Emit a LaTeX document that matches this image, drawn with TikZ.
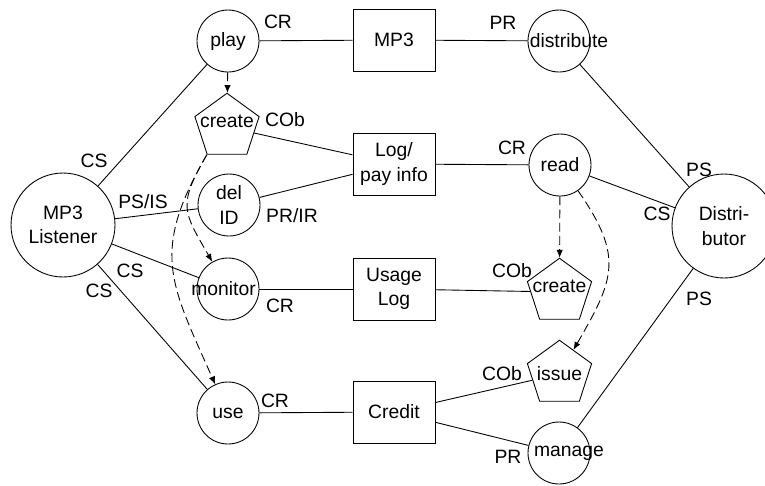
\documentclass[tikz,border=0pt]{standalone}
\usepackage{fontspec}
\setmainfont{Liberation Sans}
\usetikzlibrary{arrows.meta,shapes.geometric}

\begin{document}
\begin{tikzpicture}[
    x=0.02cm, y=0.02cm,
    font=\fontsize{11}{14}\selectfont,
    line width=0.5pt,
    >={Latex[length=4.5pt,width=3.6pt]},
    act/.style={
        circle,
        draw,
        inner sep=0pt,
        minimum size=1.24cm,
        align=center
    },
    party/.style={
        circle,
        draw,
        inner sep=0pt,
        minimum size=2.08cm,
        align=center
    },
    gen/.style 2 args={
        regular polygon,
        regular polygon sides=5,
        draw,
        inner sep=0pt,
        minimum size=1.35cm,
        label={[yshift=#1]center:#2}
    },
    box/.style={
        rectangle,
        draw,
        minimum width=1.64cm,
        minimum height=1.24cm,
        align=center
    },
    role/.style={inner sep=0pt},
    wide/.style 2 args={label={[xshift=#1]center:#2}},
    flow/.style={->, dash pattern=on 5pt off 2.5pt}
]

\useasboundingbox (0,0) rectangle (765,-485);

% Parties
\node[party] (listener) at (63,-225) {MP3\\Listener};
\node[party] (distributor) at (724,-226) {Distri-\\butor};

% Listener side
\node[act] (play) at (228,-41) {play};
\node[gen={0.12cm}{create}] (create1) at (227,-127) {};
\node[act] (delid) at (229,-205) {del\\ID};
\node[act, wide={-0.09cm}{monitor}] (monitor) at (228,-289) {};
\node[act] (use) at (228,-413) {use};

% Objects
\node[box] (mp3) at (394,-40) {MP3};
\node[box] (logpay) at (394,-164) {Log/\\pay info};
\node[box] (usage) at (394,-289) {Usage\\Log};
\node[box] (credit) at (394,-412) {Credit};

% Distributor side
\node[act, wide={0.2cm}{distribute}] (distribute) at (559,-41) {};
\node[act] (read) at (560,-165) {read};
\node[gen={0.12cm}{create}] (create2) at (559.5,-292) {};
\node[gen={0cm}{issue}] (issue) at (559.5,-374) {};
\node[act, wide={0.2cm}{manage}] (manage) at (559,-453) {};

% Links
\draw (play) -- (mp3);
\draw (mp3) -- (distribute);
\draw (play) -- (listener);
\draw (create1) -- (logpay);
\draw (delid) -- (logpay);
\draw (listener) -- (delid);
\draw (logpay) -- (read);
\draw (read) -- (distributor);
\draw (distribute) -- (distributor);
\draw (listener) -- (monitor);
\draw (listener) -- (use);
\draw (monitor) -- (usage);
\draw (usage) -- (create2);
\draw (use) -- (credit);
\draw (credit) -- (issue);
\draw (credit) -- (manage);
\draw (manage) -- (distributor);

% Dashed flows
\draw[flow] (play) -- (create1);
\draw[flow] (create1.corner 3) to[out=240, in=120, looseness=1.4] (monitor);
\draw[flow] (create1.corner 3) to[out=240, in=114, looseness=1.25] (use);
\draw[flow] (read) -- (create2);
\draw[flow] (read) to[out=-55, in=60, looseness=1.3] (issue);

% Role labels
\node[role] (cr1) at (278,-22) {CR};
\node[role] (pr1) at (503,-23) {PR};
\node[role] (cs1) at (94,-161) {CS};
\node[role] (cob1) at (285,-120) {COb};
\node[role] (psis) at (143,-202) {PS/IS};
\node[role] (prir) at (292,-216) {PR/IR};
\node[role] (cr2) at (512,-148) {CR};
\node[role] (ps1) at (699,-170) {PS};
\node[role] (cs2) at (657,-214) {CS};
\node[role] (cs3) at (130,-271) {CS};
\node[role] (cs4) at (99,-291) {CS};
\node[role] (cr3) at (280,-306) {CR};
\node[role] (cob2) at (512,-271) {COb};
\node[role] (cr4) at (275,-401) {CR};
\node[role] (cob3) at (502,-374) {COb};
\node[role] (pr2) at (508,-457) {PR};
\node[role] (ps2) at (699,-299) {PS};

\end{tikzpicture}
\end{document}
